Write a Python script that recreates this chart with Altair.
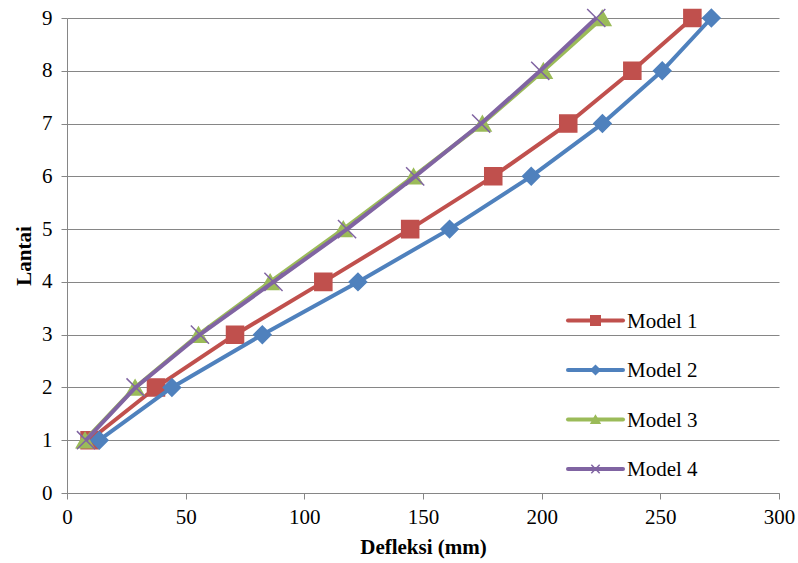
import altair as alt
import pandas as pd

lantai = [1, 2, 3, 4, 5, 6, 7, 8, 9]
model_names = ["Model 1", "Model 2", "Model 3", "Model 4"]
model1 = [9.5, 37.5, 70.8, 108.0, 144.6, 179.6, 211.2, 238.2, 263.5]
model2 = [13.6, 44.2, 82.3, 122.6, 161.2, 195.6, 225.6, 250.8, 271.5]
model3 = [7.6, 28.7, 55.4, 85.6, 116.4, 146.0, 175.0, 200.7, 225.5]
model4 = [8.0, 28.9, 56.0, 87.0, 118.0, 146.7, 174.5, 199.4, 223.0]
x_ticks = [0, 50, 100, 150, 200, 250, 300]
y_ticks = [0, 1, 2, 3, 4, 5, 6, 7, 8, 9]

colors = ["#C0504D", "#4F81BD", "#9BBB59", "#8064A2"]
shapes = ["square", "diamond", "triangle-up", "M-1,-1L1,1M-1,1L1,-1"]
plot_sizes = [290, 300, 300, 330]
legend_sizes = [90, 70, 80, 100]

rows = []
for name, vals in zip(model_names, [model1, model2, model3, model4]):
    for l, v in zip(lantai, vals):
        rows.append({"Model": name, "Lantai": l, "Defleksi": v})
df = pd.DataFrame(rows)
legend_df = pd.DataFrame({"Model": model_names})

FONT = "'Liberation Serif', 'Times New Roman', serif"
GRAY = "#868686"
FS = 21

color_scale = alt.Scale(domain=model_names, range=colors)
color = alt.Color("Model:N", scale=color_scale, legend=None)
fill = alt.Fill("Model:N", scale=color_scale, legend=None)
shape = alt.Shape("Model:N", scale=alt.Scale(domain=model_names, range=shapes), legend=None)

x_enc = alt.X(
    "Defleksi:Q",
    scale=alt.Scale(domain=[0, 300], nice=False),
    axis=alt.Axis(title="Defleksi (mm)", values=x_ticks, grid=False, labelPadding=7,
                  titlePadding=9, labelFlush=False),
)


def y_enc(show_axis):
    if show_axis:
        ax = alt.Axis(title="Lantai", values=y_ticks, grid=True, labelPadding=9,
                      titlePadding=7, labelFlush=False)
    else:
        ax = None
    return alt.Y("Lantai:Q", scale=alt.Scale(domain=[0, 9], nice=False), axis=ax)


base = alt.Chart(df)
layers = []
for i, name in enumerate(model_names):
    sub = base.transform_filter(alt.datum.Model == name)
    layers.append(
        sub.mark_line(strokeWidth=4, strokeJoin="round").encode(
            x=x_enc, y=y_enc(i == 0), color=color, order="Lantai:Q"
        )
    )
    layers.append(
        sub.mark_point(size=plot_sizes[i], strokeWidth=1.5, opacity=1).encode(
            x=x_enc, y=y_enc(False), color=color, fill=fill, shape=shape
        )
    )

ly = alt.Y(
    "Model:N",
    sort=model_names,
    scale=alt.Scale(type="point", range=[302.5, 451], padding=0),
    axis=None,
)
lbase = alt.Chart(legend_df)
leg_line = lbase.mark_rule(strokeWidth=4, strokeCap="round").encode(
    x=alt.value(501), x2=alt.value(556), y=ly, color=color
)
leg_pts = lbase.mark_point(strokeWidth=1.5, opacity=1).encode(
    x=alt.value(528.5),
    y=ly,
    color=color,
    fill=fill,
    shape=shape,
    size=alt.Size("Model:N", scale=alt.Scale(domain=model_names, range=legend_sizes), legend=None),
)
leg_txt = lbase.mark_text(
    align="left", baseline="middle", font=FONT, fontSize=FS, color="black", dy=1
).encode(x=alt.value(560), y=ly, text="Model:N")

chart = (
    alt.layer(*layers, leg_line, leg_pts, leg_txt)
    .resolve_scale(y="independent", size="independent")
    .properties(
        width=712,
        height=475,
        autosize=alt.AutoSizeParams(type="none"),
        padding={"left": 67, "top": 18, "right": 19, "bottom": 70},
        background="white",
    )
    .configure_view(stroke=None)
    .configure_axis(
        domainColor=GRAY,
        tickColor=GRAY,
        gridColor=GRAY,
        gridWidth=1,
        domainWidth=1,
        tickSize=6,
        labelFont=FONT,
        labelFontSize=FS,
        labelColor="black",
        titleFont=FONT,
        titleFontSize=FS,
        titleFontWeight="bold",
        titleColor="black",
    )
)

chart.save("out.html", embed_options={"renderer": "svg", "actions": False})
